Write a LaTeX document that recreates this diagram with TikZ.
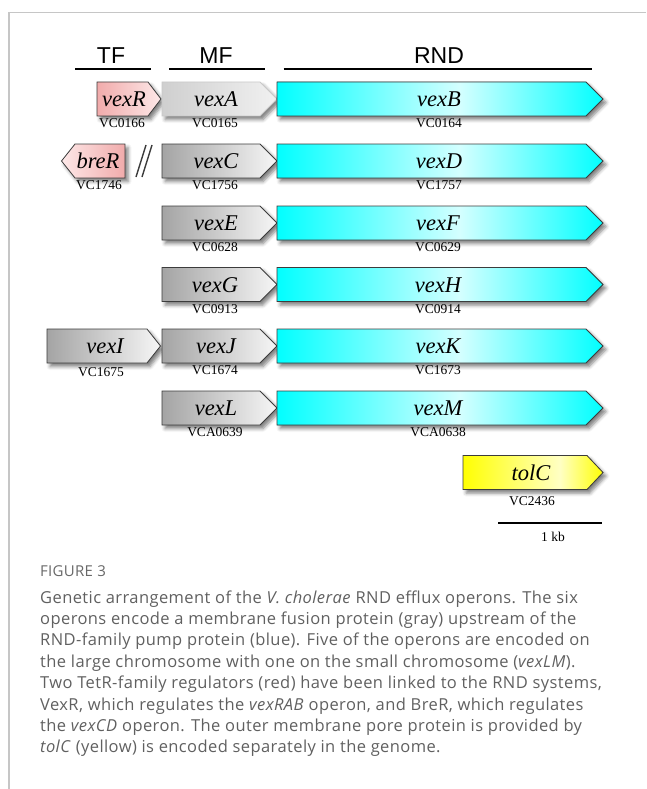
\documentclass[tikz,border=0pt]{standalone}
\usepackage{fontspec}
\setmainfont{Liberation Serif}
\newfontfamily\hdfont{Liberation Sans}
\newfontfamily\capfont[LetterSpace=2.5]{Open Sans}
\newfontfamily\figfont[LetterSpace=2]{Open Sans}
\usetikzlibrary{shadows.blur}
\definecolor{framegray}{HTML}{C6C6C6}
\definecolor{capgray}{HTML}{606060}
\definecolor{figgray}{HTML}{686868}
\definecolor{edgegray}{HTML}{3C3C3C}
\definecolor{pinkL}{HTML}{F1ABAB}
\definecolor{pinkR}{HTML}{FDE8E8}
\definecolor{grayL}{HTML}{A4A4A4}
\definecolor{grayR}{HTML}{F6F6F6}
\definecolor{lgL}{HTML}{CFCFCF}
\definecolor{lgR}{HTML}{F1F1F1}
\definecolor{lgEdge}{HTML}{C9C9C9}
\definecolor{cyanE}{HTML}{00FFFF}
\definecolor{cyanM}{HTML}{D4FFFF}
\definecolor{yelE}{HTML}{FFFF00}
\definecolor{yelM}{HTML}{FFFFC4}
\newcommand\fwdgene[5]{\path[#5] (#1,#4-17) -- (#2,#4-17) -- (#3,#4) -- (#2,#4+17) -- (#1,#4+17) -- cycle;}
\newcommand\revgene[5]{\path[#5] (#1,#4) -- (#2,#4-17) -- (#3,#4-17) -- (#3,#4+17) -- (#2,#4+17) -- cycle;}
% two-sided gradient gene: x1, xbody, xtip, cy, edge colour, middle colour, peak x
\newcommand\peakgene[7]{%
  \fwdgene{#1}{#2}{#3}{#4}{shadowonly}
  \begin{scope}
    \clip (#1,#4-17) -- (#2,#4-17) -- (#3,#4) -- (#2,#4+17) -- (#1,#4+17) -- cycle;
    \fill[left color=#5, right color=#6] (#1-1,#4-18) rectangle (#7,#4+18);
    \fill[left color=#6, right color=#5] (#7-0.2,#4-18) rectangle (#3+1,#4+18);
  \end{scope}
  \fwdgene{#1}{#2}{#3}{#4}{geneedge}
}
\tikzset{
  genebase/.style={line width=0.8pt, blur shadow={shadow xshift=3pt, shadow yshift=-3.5pt, shadow blur radius=3.5pt, shadow opacity=50}},
  shadowonly/.style={fill=white, blur shadow={shadow xshift=3pt, shadow yshift=-3.5pt, shadow blur radius=3.5pt, shadow opacity=50}},
  geneedge/.style={draw=edgegray, line width=0.8pt},
  tfgene/.style={genebase, draw=edgegray, left color=pinkL, right color=pinkR},
  tfrev/.style={genebase, draw=edgegray, left color=pinkR, right color=pinkL},
  mfgene/.style={genebase, draw=edgegray, left color=grayL, right color=grayR},
  mflight/.style={genebase, draw=lgEdge, left color=lgL, right color=lgR},
  gname/.style={font=\fontsize{22.5}{26}\selectfont\itshape, anchor=base, inner sep=0pt},
  glabel/.style={font=\fontsize{13.5}{16}\selectfont, anchor=base, inner sep=0pt},
  hdtext/.style={font=\hdfont\fontsize{23}{27}\selectfont, anchor=base, inner sep=0pt},
  hdline/.style={line width=2pt, black},
  capline/.style={font=\capfont\fontsize{16.5}{20}\selectfont, text=capgray, anchor=base west, inner sep=0pt},
}
\begin{document}
\begin{tikzpicture}[x=1pt,y=-1pt]
\useasboundingbox (0,0) rectangle (646,789);
% frame
\draw[framegray, line width=1.1pt] (646,12.5) -- (9,12.5) -- (9,789);
% headers
\node[hdtext] (tf) at (111,63.3) {TF};
\node[hdtext] (mf) at (216,63.3) {MF};
\node[hdtext] (rnd) at (439,63.3) {RND};
\draw[hdline] (75,69) -- (151,69);
\draw[hdline] (169,69) -- (265,69);
\draw[hdline] (283.5,69) -- (592,69);
% row 1
\fwdgene{97}{148}{161}{99}{tfgene}
\fwdgene{162}{260}{277}{99}{mflight}
\peakgene{277}{586}{603}{99}{cyanE}{cyanM}{460}
\node[gname] (vexR) at (124,106.7) {vexR};
\node[gname] (vexA) at (216,106.7) {vexA};
\node[gname] (vexB) at (439,106.7) {vexB};
\node[glabel] (l0166) at (122,127.5) {VC0166};
\node[glabel] (l0165) at (215,127.5) {VC0165};
\node[glabel] (l0164) at (439,127.5) {VC0164};
% row 2
\revgene{61.5}{75}{125}{161}{tfrev}
\draw[edgegray, line width=1.4pt] (136,177) -- (146,145);
\draw[edgegray, line width=1.4pt] (142,177) -- (152,145);
\fwdgene{162}{260}{277}{161}{mfgene}
\peakgene{277}{586}{603}{161}{cyanE}{cyanM}{460}
\node[gname] (breR) at (98,168.7) {breR};
\node[gname] (vexC) at (216,168.7) {vexC};
\node[gname] (vexD) at (439,168.7) {vexD};
\node[glabel] (l1746) at (99,189.5) {VC1746};
\node[glabel] (l1756) at (215,189.5) {VC1756};
\node[glabel] (l1757) at (439,189.5) {VC1757};
% row 3
\fwdgene{162}{260}{277}{223}{mfgene}
\peakgene{277}{586}{603}{223}{cyanE}{cyanM}{460}
\node[gname] (vexE) at (216,230.7) {vexE};
\node[gname] (vexF) at (438,230.7) {vexF};
\node[glabel] (l0628) at (215,251.5) {VC0628};
\node[glabel] (l0629) at (438,251.5) {VC0629};
% row 4
\fwdgene{162}{260}{277}{284.5}{mfgene}
\peakgene{277}{586}{603}{284.5}{cyanE}{cyanM}{460}
\node[gname] (vexG) at (215,292.2) {vexG};
\node[gname] (vexH) at (438,292.2) {vexH};
\node[glabel] (l0913) at (215,313) {VC0913};
\node[glabel] (l0914) at (438,313) {VC0914};
% row 5
\fwdgene{47}{147}{160.5}{346}{mfgene}
\fwdgene{162}{260}{277}{346}{mfgene}
\peakgene{277}{586}{603}{346}{cyanE}{cyanM}{460}
\node[gname] (vexI) at (105,353.7) {vexI};
\node[gname] (vexJ) at (216,353.7) {vexJ};
\node[gname] (vexK) at (438,353.7) {vexK};
\node[glabel] (l1675) at (101,376) {VC1675};
\node[glabel] (l1674) at (215,374.5) {VC1674};
\node[glabel] (l1673) at (438,374.5) {VC1673};
% row 6
\fwdgene{162}{260}{277}{408}{mfgene}
\peakgene{277}{586}{603}{408}{cyanE}{cyanM}{460}
\node[gname] (vexL) at (216,415.7) {vexL};
\node[gname] (vexM) at (438,415.7) {vexM};
\node[glabel] (l0639) at (215,436.5) {VCA0639};
\node[glabel] (l0638) at (438,436.5) {VCA0638};
% tolC
\peakgene{463}{587}{603}{472.5}{yelE}{yelM}{560}
\node[gname] (tolC) at (531,480.2) {tolC};
\node[glabel] (l2436) at (532,505) {VC2436};
% scale bar
\coordinate (sb1) at (498,523);
\coordinate (sb2) at (602,523);
\draw[line width=2.2pt, black] (sb1) -- (sb2);
\node[glabel] (kb) at (553,541) {1 kb};
% caption
\node[capline, text=figgray, font=\figfont\fontsize{15}{18}\selectfont] (fig) at (40,576) {FIGURE 3};
\node[capline] (c1) at (40,603) {Genetic arrangement of the \textit{V. cholerae} RND efflux operons. The six};
\node[capline] (c2) at (40,624.4) {operons encode a membrane fusion protein (gray) upstream of the};
\node[capline] (c3) at (40,645.8) {RND-family pump protein (blue). Five of the operons are encoded on};
\node[capline] (c4) at (40,667.2) {the large chromosome with one on the small chromosome (\textit{vexLM}).};
\node[capline] (c5) at (40,688.6) {Two TetR-family regulators (red) have been linked to the RND systems,};
\node[capline] (c6) at (40,710) {VexR, which regulates the \textit{vexRAB} operon, and BreR, which regulates};
\node[capline] (c7) at (40,731.4) {the \textit{vexCD} operon. The outer membrane pore protein is provided by};
\node[capline] (c8) at (40,752.8) {\textit{tolC} (yellow) is encoded separately in the genome.};
\end{tikzpicture}
\end{document}
